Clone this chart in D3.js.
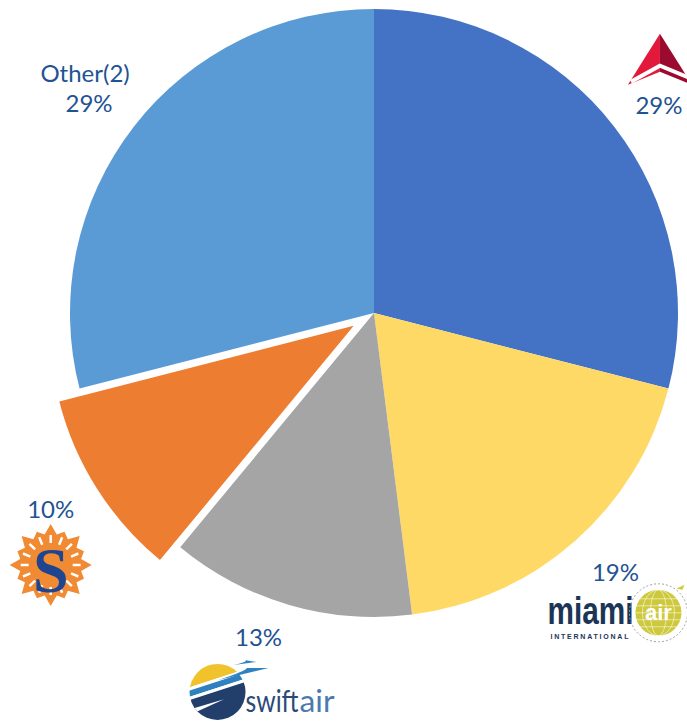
<!DOCTYPE html>
<html><head><meta charset="utf-8">
<script src="https://cdn.jsdelivr.net/npm/d3@7"></script>
<style>body{margin:0;background:#fff}svg{display:block}</style>
</head><body><svg id="c" width="687" height="728"></svg>
<script>
// ---- data ----
const categories = ["Delta", "Miami Air", "Swift Air", "Sun Country", "Other(2)"];
const values = [29, 19, 13, 10, 29];
const valueLabels = ["29%", "19%", "13%", "10%", "29%"];

// ---- styles / layout ----
const colors = ["#4472C4", "#FFD966", "#A5A5A5", "#ED7D31", "#5B9BD5"];
const explodeIdx = 3;
const cx = 374, cy = 313, R = 304, explodeDist = 24, labelR = 353;
const labelNudge = [[6, 9], [8, -5], [-17, -14], [-5, -5], [-6, 7]];
const textColor = "#1F5392";
const font = "Lato, 'Open Sans', sans-serif";

const svg = d3.select("#c");
const defs = svg.append("defs");
const pie = d3.pie().sort(null).value(d => d).startAngle(0).endAngle(2 * Math.PI);
const arcs = pie(values);
const arc = d3.arc().innerRadius(0).outerRadius(R);

const g = svg.append("g").attr("transform", `translate(${cx},${cy})`);
g.selectAll("path").data(arcs).join("path")
  .attr("d", arc)
  .attr("fill", (d, i) => colors[i])
  .attr("transform", (d, i) => {
    if (i !== explodeIdx) return null;
    const m = (d.startAngle + d.endAngle) / 2;
    return `translate(${Math.sin(m) * explodeDist},${-Math.cos(m) * explodeDist})`;
  });

// label anchors
const anchors = arcs.map((d, i) => {
  const m = (d.startAngle + d.endAngle) / 2;
  const r = labelR + (i === explodeIdx ? explodeDist : 0);
  return [cx + Math.sin(m) * r + labelNudge[i][0], cy - Math.cos(m) * r + labelNudge[i][1]];
});

const lab = svg.append("g").attr("font-family", font).attr("font-size", 24)
  .attr("fill", textColor).attr("text-anchor", "middle");

anchors.forEach((a, i) => {
  if (i === 4) {
    lab.append("text").attr("x", a[0] - 4).attr("y", a[1] - 30).attr("dy", "0.35em").text(categories[i]);
  }
  lab.append("text").attr("x", a[0]).attr("y", a[1]).attr("dy", "0.35em").text(valueLabels[i]);
});

// ---- logos ----
// Delta
(function () {
  const [ax, ay] = anchors[0];
  const lg = svg.append("g").attr("transform", `translate(${ax},${ay})`);
  lg.append("polygon").attr("points", [[1, -72], [-31, -21], [1, -34]].join(" ")).attr("fill", "#E3193B");
  lg.append("polygon").attr("points", [[1, -72], [33, -21], [1, -34]].join(" ")).attr("fill", "#9B0B2F");
  lg.append("polyline").attr("points", [[-28, -24], [1, -40], [30, -28]].join(" "))
    .attr("fill", "none").attr("stroke", "#fff").attr("stroke-width", 4);
})();

// Miami Air
(function () {
  const [ax, ay] = anchors[1];
  const lg = svg.append("g").attr("transform", `translate(${ax},${ay})`);
  lg.append("g").attr("transform", "translate(-68,51) scale(1,1.3)")
    .append("text").attr("font-family", "'Liberation Sans', Arial, sans-serif")
    .attr("font-weight", "bold").attr("font-size", 30).attr("fill", "#1B3557")
    .attr("textLength", 86).attr("lengthAdjust", "spacingAndGlyphs").text("miami");
  lg.append("text").attr("x", -65).attr("y", 66).attr("font-family", "'Liberation Sans', Arial, sans-serif")
    .attr("font-weight", "bold").attr("font-size", 7).attr("fill", "#1B3557")
    .attr("textLength", 78).attr("lengthAdjust", "spacing").text("INTERNATIONAL");
  const c = lg.append("g").attr("transform", "translate(43,40)");
  c.append("circle").attr("r", 29).attr("fill", "none").attr("stroke", "#A0A0A0")
    .attr("stroke-width", 1).attr("stroke-dasharray", "2,2");
  c.append("circle").attr("r", 23).attr("fill", "#CEC93C");
  [-14, -7, 0, 7, 14].forEach(y => {
    const hw = Math.sqrt(23 * 23 - y * y);
    c.append("line").attr("x1", -hw).attr("x2", hw).attr("y1", y).attr("y2", y)
      .attr("stroke", "#fff").attr("stroke-width", 0.7).attr("opacity", 0.8);
  });
  [8, 16].forEach(rx => c.append("ellipse").attr("rx", rx).attr("ry", 23).attr("fill", "none")
    .attr("stroke", "#fff").attr("stroke-width", 0.7).attr("opacity", 0.8));
  c.append("text").attr("y", 7).attr("text-anchor", "middle").attr("font-family", "'Liberation Sans', Arial, sans-serif")
    .attr("font-weight", "bold").attr("font-size", 22).attr("fill", "#fff").text("air");
  c.append("path").attr("d", "M18,-24 l8,-4 l-2,5 z").attr("fill", "#CEC93C");
})();

// Swift Air
(function () {
  const [ax, ay] = anchors[2];
  const ccx = ax - 41, ccy = ay + 54;
  defs.append("clipPath").attr("id", "swc").append("circle").attr("cx", ccx).attr("cy", ccy).attr("r", 28);
  const c = svg.append("g").attr("clip-path", "url(#swc)")
    .append("g").attr("transform", `translate(${ccx},${ccy}) rotate(-18)`);
  c.append("rect").attr("x", -40).attr("y", -40).attr("width", 80).attr("height", 27).attr("fill", "#F0C22B");
  c.append("rect").attr("x", -40).attr("y", -13).attr("width", 80).attr("height", 3).attr("fill", "#fff");
  c.append("rect").attr("x", -40).attr("y", -10).attr("width", 80).attr("height", 6).attr("fill", "#2F82BF");
  c.append("rect").attr("x", -40).attr("y", -4).attr("width", 80).attr("height", 3).attr("fill", "#fff");
  c.append("rect").attr("x", -40).attr("y", -1).attr("width", 80).attr("height", 45).attr("fill", "#223F6C");
  c.append("path").attr("d", "M-32,8 L4,9 L-32,13 z").attr("fill", "#fff");
  const lg = svg.append("g").attr("transform", `translate(${ax},${ay})`);
  // swoosh tips extending right
  lg.append("path").attr("d", "M-40,42 Q-10,32 -12,30 L10,30 z").attr("fill", "#2F82BF");
  lg.append("path").attr("d", "M-25,27 Q-8,23 -14,22 L-2,24 z").attr("fill", "#2F82BF");
  const t = lg.append("g").attr("transform", "translate(0,74) scale(1,1.18)")
    .attr("font-family", "Lato, sans-serif").attr("font-size", 26);
  t.append("text").attr("x", -13).attr("fill", "#2B4A78")
    .attr("textLength", 53).attr("lengthAdjust", "spacingAndGlyphs").text("swift");
  t.append("text").attr("x", 41).attr("fill", "#4C7AAE")
    .attr("textLength", 35).attr("lengthAdjust", "spacingAndGlyphs").text("air");
})();

// Sun Country
(function () {
  const [ax, ay] = anchors[3];
  const lg = svg.append("g").attr("transform", `translate(${ax},${ay + 55})`);
  const pts = [];
  for (let k = 0; k < 32; k++) {
    const a = k * Math.PI / 16;
    const r = k % 2 === 1 ? 31 : (k % 4 === 0 ? 41 : 36);
    pts.push([Math.sin(a) * r, -Math.cos(a) * r]);
  }
  lg.append("polygon").attr("points", pts.map(p => p.join(",")).join(" ")).attr("fill", "#F08A33");
  for (let k = 0; k < 16; k++) {
    const a = k * Math.PI / 8;
    lg.append("line").attr("x1", Math.sin(a) * 22).attr("y1", -Math.cos(a) * 22)
      .attr("x2", Math.sin(a) * 30).attr("y2", -Math.cos(a) * 30)
      .attr("stroke", "#fff").attr("stroke-width", 2.5);
  }
  lg.append("circle").attr("r", 21).attr("fill", "#F08A33");
  lg.append("text").attr("y", 5).attr("dy", "0.35em").attr("text-anchor", "middle")
    .attr("font-family", "'Liberation Serif', 'DejaVu Serif', serif").attr("font-weight", "bold")
    .attr("font-size", 64).attr("fill", "#1F4591").text("S");
})();
</script></body></html>
